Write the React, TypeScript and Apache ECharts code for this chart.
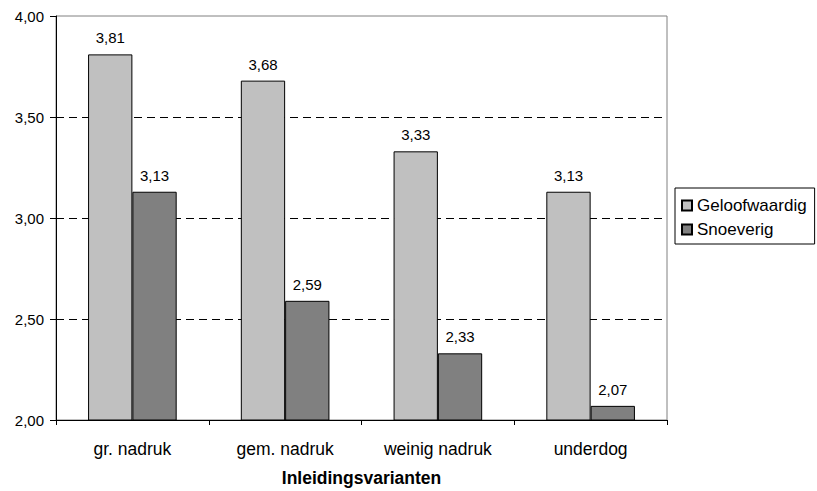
import React, { useEffect, useRef } from "react";
import * as echarts from "echarts";

const categories = ["gr. nadruk", "gem. nadruk", "weinig nadruk", "underdog"];
const geloofwaardig = [3.81, 3.68, 3.33, 3.13];
const snoeverig = [3.13, 2.59, 2.33, 2.07];
const seriesNames = ["Geloofwaardig", "Snoeverig"];
const axisTitle = "Inleidingsvarianten";

const FONT = "'Liberation Sans', Arial, sans-serif";
const fmt = (v: number) => v.toFixed(2).replace(".", ",");

export default function App() {
  const ref = useRef<HTMLDivElement>(null);
  useEffect(() => {
    if (!ref.current) return;
    const chart = echarts.init(ref.current, undefined, { renderer: "svg" });
    const label = {
      show: true,
      position: "top" as const,
      distance: 9,
      color: "#000",
      fontFamily: FONT,
      fontSize: 15,
      formatter: (p: any) => fmt(p.value),
    };
    chart.setOption({
      animation: false,
      backgroundColor: "#fff",
      grid: {
        left: 56,
        right: 150,
        top: 16,
        bottom: 71,
        containLabel: false,
        outerBoundsMode: "none",
        show: true,
        borderColor: "#808080",
        borderWidth: 1,
        backgroundColor: "transparent",
      },
      legend: {
        orient: "vertical",
        left: 675,
        top: 188,
        data: seriesNames,
        icon: "rect",
        itemWidth: 10,
        itemHeight: 10,
        itemGap: 7,
        padding: [9, 8, 6, 6],
        borderColor: "#000",
        borderWidth: 1,
        textStyle: { fontFamily: FONT, fontSize: 17, color: "#000" },
      },
      xAxis: {
        type: "category",
        data: categories,
        name: axisTitle,
        nameLocation: "middle",
        nameGap: 49,
        nameTextStyle: { fontFamily: FONT, fontSize: 17.5, fontWeight: "bold", color: "#000" },
        axisLine: { lineStyle: { color: "#000", width: 1 } },
        axisTick: { show: true, length: 5, lineStyle: { color: "#000" } },
        axisLabel: { fontFamily: FONT, fontSize: 17.5, color: "#000", margin: 20 },
      },
      yAxis: {
        type: "value",
        min: 2,
        max: 4,
        interval: 0.5,
        axisLine: { show: true, lineStyle: { color: "#000", width: 1 } },
        axisTick: { show: true, length: 6, lineStyle: { color: "#000" } },
        axisLabel: { fontFamily: FONT, fontSize: 15, color: "#000", margin: 12, formatter: (v: number) => fmt(v) },
        splitLine: {
          show: true,
          lineStyle: {
            color: ["transparent", "#000", "#000", "#000", "transparent"],
            type: [8, 5],
            width: 1,
          },
        },
      },
      series: [
        {
          name: seriesNames[0],
          type: "bar",
          data: geloofwaardig,
          barGap: "0%",
          barCategoryGap: "42%",
          itemStyle: { color: "#C0C0C0", borderColor: "#000", borderWidth: 1 },
          label,
        },
        {
          name: seriesNames[1],
          type: "bar",
          data: snoeverig,
          itemStyle: { color: "#808080", borderColor: "#000", borderWidth: 1 },
          label,
        },
      ],
    });
    return () => chart.dispose();
  }, []);
  return <div ref={ref} style={{ width: 817, height: 491, position: "absolute", left: 0, top: 0 }} />;
}
